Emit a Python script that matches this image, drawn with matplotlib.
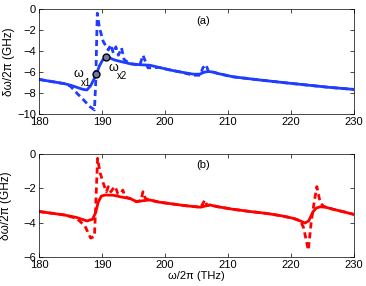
import numpy as np
import matplotlib
matplotlib.use('Agg')
import matplotlib.pyplot as plt

plt.rcParams['font.family'] = ['Liberation Sans', 'DejaVu Sans']
plt.rcParams['font.size'] = 8
plt.rcParams['axes.unicode_minus'] = True

#%% panel (a) - blue
xa_solid = [180, 182, 184, 185, 186, 187, 187.6, 188.2, 188.7, 189.1, 189.6, 190.1, 190.6,
            191.2, 192, 193, 194.4, 196, 197.6, 199, 200.8, 202.5, 204.5, 205.5, 206.3,
            206.9, 207.6, 208.5, 210.8, 215, 218.8, 222, 226, 230]
ya_solid = [-6.7, -6.9, -7.1, -7.25, -7.45, -7.65, -7.7, -7.3, -6.7, -6.2, -5.4, -4.85, -4.6,
            -4.65, -4.85, -5.0, -5.2, -5.3, -5.35, -5.55, -5.8, -6.0, -6.2, -6.2, -6.0,
            -5.95, -6.0, -6.15, -6.45, -6.75, -7.0, -7.2, -7.45, -7.65]
xa_dash = [180, 184, 185, 186, 187, 188.1, 188.8, 189.0, 189.25, 189.6, 190.2, 190.6, 191.0,
           191.4, 191.8, 192.2, 192.6, 193.1, 193.5, 194.4, 196.0, 196.5, 196.9, 197.3, 199,
           200.8, 202.5, 204.5, 205.6, 206.0, 206.5, 206.9, 207.6, 208.5, 210.8, 215, 218.8,
           222, 226, 230]
ya_dash = [-6.7, -7.1, -7.35, -8.0, -8.6, -9.3, -9.6, -7.0, -0.4, -1.8, -3.1, -3.5, -3.9,
           -3.4, -4.2, -3.6, -4.4, -3.7, -4.8, -5.2, -5.35, -4.4, -5.0, -5.6, -5.55,
           -5.8, -6.0, -6.3, -6.3, -5.6, -5.3, -5.95, -6.0, -6.15, -6.45, -6.75, -7.0,
           -7.2, -7.45, -7.65]
marks_x = [189.1, 190.6]
marks_y = [-6.2, -4.6]

#%% panel (b) - red
xb_solid = [180, 182, 184, 186, 187.6, 188.5, 189.0, 189.4, 189.9, 190.5, 191.8, 193, 194.5,
            195.5, 196.5, 197.6, 199, 201, 203, 205.6, 207.1, 208.5, 210.8, 213.5, 216.1,
            218.5, 220.4, 221.5, 222.2, 222.8, 223.5, 224.0, 224.6, 225.5, 226.7, 228.5, 230]
yb_solid = [-3.35, -3.45, -3.55, -3.7, -3.9, -3.8, -3.4, -2.8, -2.45, -2.39, -2.4, -2.5, -2.6,
            -2.78, -2.72, -2.68, -2.8, -2.9, -3.0, -3.1, -2.97, -3.08, -3.22, -3.35, -3.46,
            -3.6, -3.75, -3.9, -4.02, -3.9, -3.36, -3.15, -3.08, -3.1, -3.22, -3.38, -3.52]
xb_dash = [180, 184, 186, 187.3, 188.2, 188.8, 189.0, 189.3, 189.7, 190.2, 190.7, 191.0, 191.4,
           191.8, 192.1, 192.5, 193.0, 193.3, 193.7, 194.5, 195.5, 196.2, 196.5, 196.9, 197.6,
           199, 201, 203, 205.6, 206.0, 206.3, 206.7, 207.1, 208.5, 210.8, 213.5, 216.1,
           218.5, 220.4, 221.5, 222.0, 222.75, 223.2, 223.6, 224.1, 224.5, 225.0, 225.5,
           226.7, 228.5, 230]
yb_dash = [-3.35, -3.55, -3.75, -4.2, -4.9, -4.8, -3.0, -0.25, -1.1, -1.7, -2.2, -1.9, -2.2,
           -2.0, -1.9, -2.3, -2.3, -2.1, -2.5, -2.6, -2.78, -2.7, -2.2, -2.6, -2.68,
           -2.8, -2.9, -3.0, -3.1, -2.9, -2.68, -3.0, -2.97, -3.08, -3.22, -3.35, -3.46,
           -3.6, -3.75, -3.9, -4.3, -5.6, -4.0, -3.0, -1.9, -2.6, -3.0, -3.1,
           -3.22, -3.38, -3.52]

blue = '#1f3cff'
red = '#ff0000'
dash = (0, (2.2, 1.4))

fig = plt.figure(figsize=(3.66, 2.86), dpi=100)
ax1 = fig.add_axes([0.1066, 0.601, 0.8606, 0.3675])
ax2 = fig.add_axes([0.1066, 0.1014, 0.8606, 0.3601])

ax1.plot(xa_dash, ya_dash, color=blue, lw=2.0, ls=dash)
ax1.plot(xa_solid, ya_solid, color=blue, lw=2.0)
ax1.plot(marks_x, marks_y, 'o', ms=5, mfc='#6d7aa8', mec='k', mew=1.0, ls='none')
ax1.text(186.2, -6.15, 'ω', ha='center', va='center', fontsize=9)
ax1.text(187.5, -7.0, 'x1', ha='center', va='center', fontsize=7)
ax1.text(191.8, -5.6, 'ω', ha='center', va='center', fontsize=9)
ax1.text(193.2, -6.4, 'x2', ha='center', va='center', fontsize=7)
ax1.text(206, -1.1, '(a)', ha='center', va='center', fontsize=8)
ax1.set_ylim(-10, 0)
ax1.set_yticks(np.arange(-10, 1, 2))
ax1.set_ylabel('δω/2π (GHz)', labelpad=2, fontsize=8.5)

ax2.plot(xb_dash, yb_dash, color=red, lw=2.0, ls=dash)
ax2.plot(xb_solid, yb_solid, color=red, lw=2.0)
ax2.text(206, -0.64, '(b)', ha='center', va='center', fontsize=8)
ax2.set_ylim(-6, 0)
ax2.set_yticks([-6, -4, -2, 0])
ax2.set_ylabel('δω/2π (GHz)', labelpad=8, fontsize=8.5)
ax2.set_xlabel('ω/2π (THz)', labelpad=1)

for ax in (ax1, ax2):
    ax.set_xlim(180, 230)
    ax.set_xticks(np.arange(180, 231, 10))
    ax.tick_params(direction='in', length=3, width=0.5, top=True, right=True, pad=2)
    for s in ax.spines.values():
        s.set_linewidth(0.5)

fig.savefig('out.png', dpi=100)
